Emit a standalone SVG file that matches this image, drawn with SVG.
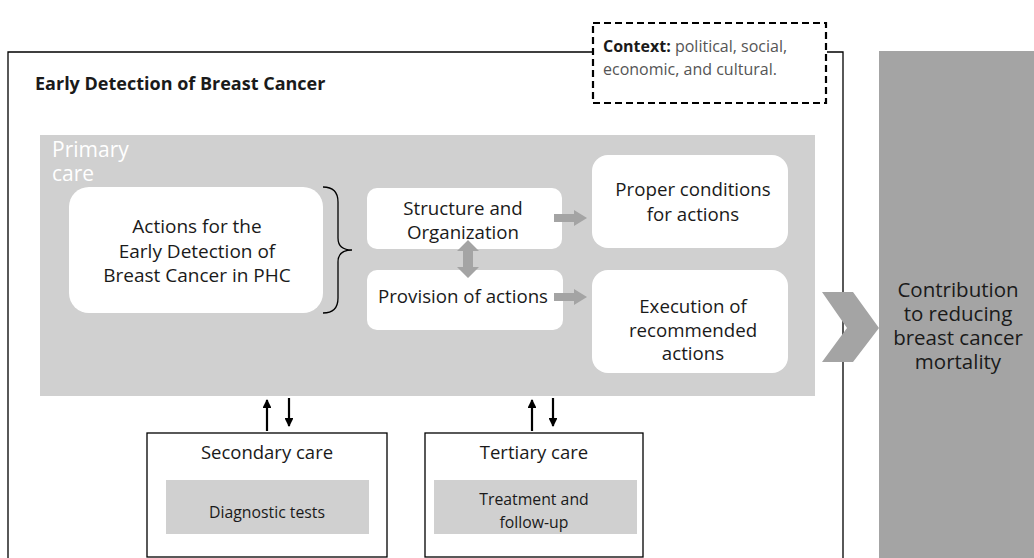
<svg xmlns="http://www.w3.org/2000/svg" width="1034" height="558" viewBox="0 0 1034 558">
<style>
text{font-family:"Open Sans","Noto Sans","Liberation Sans",sans-serif;fill:#1a1a1a}
.c{text-anchor:middle}
.wb{fill:#fff}
.gfill{fill:#a4a4a4}
.line{fill:none;stroke:#000;stroke-width:1.3}
.ar{stroke:#000;stroke-width:2.2;fill:none}
.m{font-size:18.7px}
</style>
<defs>
<marker id="ah" viewBox="0 0 10 10" refX="9" refY="5" markerWidth="4" markerHeight="4" orient="auto" markerUnits="strokeWidth">
<path d="M0,0 L10,5 L0,10 z" fill="#000"/>
</marker>
</defs>
<rect width="1034" height="558" fill="#fff"/>
<g id="outer">
<path class="line" d="M593,52 H8 V558 M827,52 H843 V558"/>
<text x="35" y="90" font-size="18" font-weight="bold">Early Detection of Breast Cancer</text>
</g>
<g id="context">
<rect x="593" y="23" width="233" height="80" fill="#fff" stroke="#000" stroke-width="2.2" stroke-dasharray="7,4"/>
<text x="603" y="52" font-size="16"><tspan font-weight="bold" fill="#1a1a1a">Context:</tspan><tspan style="fill:#555"> political, social,</tspan></text>
<text x="603" y="75" font-size="16" style="fill:#555">economic, and cultural.</text>
</g>
<g id="outcome">
<rect x="879" y="51" width="155" height="507" class="gfill"/>
<text class="c" x="958" y="297" font-size="20.5">Contribution</text>
<text class="c" x="958" y="321" font-size="20.5">to reducing</text>
<text class="c" x="958" y="345" font-size="20.5">breast cancer</text>
<text class="c" x="958" y="369" font-size="20.5">mortality</text>
</g>
<g id="primary">
<rect x="40" y="135" width="775" height="261" fill="#d0d0d0"/>
<text x="52" y="157" font-size="21" style="fill:#fff">Primary</text>
<text x="52" y="181" font-size="21" style="fill:#fff">care</text>
</g>
<g id="actions">
<rect class="wb" x="69" y="187" width="254" height="126" rx="20"/>
<text class="c" x="197" y="233" font-size="19">Actions for the</text>
<text class="c" x="197" y="258" font-size="19">Early Detection of</text>
<text class="c" x="197" y="282" font-size="19">Breast Cancer in PHC</text>
</g>
<g id="brace">
<path class="line" stroke-width="1.5" d="M323,187 Q338,187 338,202 V238 Q338,250 352,250 Q338,250 338,262 V298 Q338,313 323,313"/>
</g>
<g id="structure">
<rect class="wb" x="367" y="188" width="195" height="61" rx="10"/>
<text class="c m" x="463" y="215">Structure and</text>
<text class="c m" x="463" y="239">Organization</text>
</g>
<g id="provision">
<rect class="wb" x="367" y="270" width="196" height="60" rx="10"/>
<text class="c m" x="463" y="303">Provision of actions</text>
</g>
<g id="proper">
<rect class="wb" x="592" y="155" width="196" height="93" rx="16"/>
<text class="c m" x="693" y="196">Proper conditions</text>
<text class="c m" x="693" y="221">for actions</text>
</g>
<g id="execution">
<rect class="wb" x="592" y="270" width="196" height="103" rx="16"/>
<text class="c m" x="693" y="313">Execution of</text>
<text class="c m" x="693" y="337">recommended</text>
<text class="c m" x="693" y="360">actions</text>
</g>
<g id="secondary">
<rect x="147" y="433" width="240" height="124" fill="#fff" stroke="#000" stroke-width="1.3"/>
<text class="c" x="267" y="459" font-size="18.5">Secondary care</text>
<rect x="166" y="480" width="203" height="54" fill="#d0d0d0"/>
<text class="c" x="267" y="518" font-size="15.8">Diagnostic tests</text>
</g>
<g id="tertiary">
<rect x="425" y="433" width="218" height="124" fill="#fff" stroke="#000" stroke-width="1.3"/>
<text class="c" x="534" y="459" font-size="18.5">Tertiary care</text>
<rect x="434" y="480" width="203" height="54" fill="#d0d0d0"/>
<text class="c" x="534" y="505" font-size="15.8">Treatment and</text>
<text class="c" x="534" y="528" font-size="15.8">follow-up</text>
</g>
<g id="connectors">
<polygon class="gfill" points="822,292 853,292 879,328 853,362 822,362 847,328"/>
<polygon class="gfill" points="554,214 574,214 574,210 587,218 574,226 574,222 554,222"/>
<polygon class="gfill" points="554,293 574,293 574,289 587,297 574,305 574,301 554,301"/>
<polygon class="gfill" points="468,240 479,251 473,251 473,267 479,267 468,278 457,267 463,267 463,251 457,251"/>
<line class="ar" x1="267" y1="431" x2="267" y2="400" marker-end="url(#ah)"/>
<line class="ar" x1="289" y1="398" x2="289" y2="426" marker-end="url(#ah)"/>
<line class="ar" x1="532" y1="431" x2="532" y2="400" marker-end="url(#ah)"/>
<line class="ar" x1="553" y1="398" x2="553" y2="426" marker-end="url(#ah)"/>
</g>
</svg>
